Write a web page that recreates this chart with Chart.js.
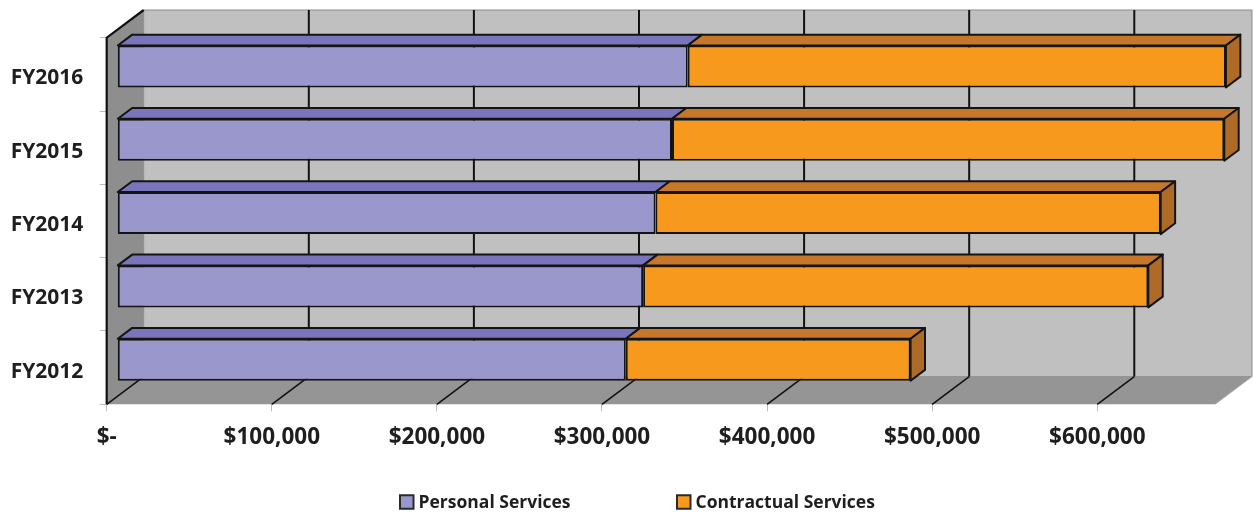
<!DOCTYPE html>
<html>
<head>
<meta charset="utf-8">
<title>Personal and Contractual Services, FY2012–FY2016</title>
<script src="https://cdn.jsdelivr.net/npm/chart.js@4.4.1/dist/chart.umd.min.js"></script>
<style>
  html, body { margin: 0; padding: 0; background: #ffffff; }
  #wrap { position: relative; width: 1254px; height: 515px; }
</style>
</head>
<body>
<div id="wrap"><canvas id="chart"></canvas></div>
<script>
// Fiscal years and spending per category (US dollars)
const years = ['FY2012', 'FY2013', 'FY2014', 'FY2015', 'FY2016'];
const personalServices = [308000, 318500, 326000, 336000, 345500];
const contractualServices = [172500, 306000, 306000, 334500, 326000];
const seriesNames = ['Personal Services', 'Contractual Services'];
const axisMax = 671300;
const axisTicks = [0, 100000, 200000, 300000, 400000, 500000, 600000];

// 3D look: depth vector of the box and where the bars sit inside it
const DEPTH = { x: 37, y: -27.7 };
const BAR_FRONT = 0.286;   // fraction of depth where bar fronts sit
const BAR_DEPTH = 0.39;    // fraction of depth taken by each bar

const colors = {
  backWall: '#C0C0C0',
  sideWall: '#8E8E8E',
  floor: '#959595',
  wallEdge: '#8A8A8A',
  grid: '#111111',
  barBorder: '#141414',
  fronts: ['#9A97CD', '#F7991D'],
  tops: ['#7A74BA', '#C7772A'],
  sides: ['#6C66A8', '#AE6A27']
};

function money(v) {
  if (v === 0) return '$-';
  return '$' + v.toLocaleString('en-US');
}

function poly(ctx, pts, fill, stroke, lw) {
  ctx.beginPath();
  ctx.moveTo(pts[0][0], pts[0][1]);
  for (let i = 1; i < pts.length; i++) ctx.lineTo(pts[i][0], pts[i][1]);
  ctx.closePath();
  if (fill) { ctx.fillStyle = fill; ctx.fill(); }
  if (stroke) { ctx.strokeStyle = stroke; ctx.lineWidth = lw || 1; ctx.lineJoin = 'round'; ctx.stroke(); }
}

function line(ctx, x1, y1, x2, y2, color, lw) {
  ctx.beginPath();
  ctx.moveTo(x1, y1);
  ctx.lineTo(x2, y2);
  ctx.strokeStyle = color;
  ctx.lineWidth = lw;
  ctx.stroke();
}

// Draws the walls, floor, grid and the depth faces of the bars,
// then shifts the bar fronts back into the box.
const box3d = {
  id: 'box3d',
  beforeDatasetsDraw(chart) {
    const ctx = chart.ctx;
    const a = chart.chartArea;
    const xs = chart.scales.x;
    const dx = DEPTH.x, dy = DEPTH.y;
    ctx.save();

    // back wall
    poly(ctx, [[a.left + dx, a.top + dy], [a.right + dx, a.top + dy],
               [a.right + dx, a.bottom + dy], [a.left + dx, a.bottom + dy]],
         colors.backWall, colors.wallEdge, 1);
    // floor
    poly(ctx, [[a.left, a.bottom], [a.right, a.bottom],
               [a.right + dx, a.bottom + dy], [a.left + dx, a.bottom + dy]],
         colors.floor, null);
    line(ctx, a.right, a.bottom, a.right + dx, a.bottom + dy, '#A8A8A8', 1);
    // side wall
    poly(ctx, [[a.left, a.top], [a.left + dx, a.top + dy],
               [a.left + dx, a.bottom + dy], [a.left, a.bottom]],
         colors.sideWall, null);

    // value grid on the back wall and across the floor
    xs.ticks.forEach(t => {
      const px = xs.getPixelForValue(t.value);
      if (t.value !== 0) line(ctx, px + dx, a.top + dy, px + dx, a.bottom + dy, colors.grid, 2);
      line(ctx, px, a.bottom, px + dx, a.bottom + dy, colors.grid, 1.6);
    });

    // front and top edges of the side wall
    ctx.beginPath();
    ctx.moveTo(a.left, a.bottom);
    ctx.lineTo(a.left, a.top);
    ctx.lineTo(a.left + dx, a.top + dy);
    ctx.strokeStyle = '#111';
    ctx.lineWidth = 2.2;
    ctx.lineJoin = 'miter';
    ctx.stroke();

    // depth faces of every bar segment
    const ox = dx * BAR_FRONT, oy = dy * BAR_FRONT;
    const bx = dx * BAR_DEPTH, by = dy * BAR_DEPTH;
    const last = chart.data.datasets.length - 1;
    chart.data.datasets.forEach((ds, di) => {
      const meta = chart.getDatasetMeta(di);
      meta.data.forEach(el => {
        const p = el.getProps(['x', 'y', 'base', 'height'], true);
        const l = Math.min(p.x, p.base) + ox;
        const r = Math.max(p.x, p.base) + ox;
        const t = p.y - p.height / 2 + oy;
        const b = p.y + p.height / 2 + oy;
        poly(ctx, [[l, t], [r, t], [r + bx, t + by], [l + bx, t + by]],
             colors.tops[di], colors.barBorder, 2);
        if (di === last) {
          poly(ctx, [[r, t], [r + bx, t + by], [r + bx, b + by], [r, b]],
               colors.sides[di], colors.barBorder, 2);
        }
      });
    });
    ctx.restore();

    ctx.save();
    ctx.translate(ox, oy);
  },
  afterDatasetsDraw(chart) {
    chart.ctx.restore();
  }
};

// Legend row under the axis labels
const legendRow = {
  id: 'legendRow',
  afterDraw(chart, args, opts) {
    const ctx = chart.ctx;
    ctx.save();
    ctx.font = opts.font;
    ctx.textBaseline = 'middle';
    ctx.textAlign = 'left';
    chart.data.datasets.forEach((ds, i) => {
      const x = opts.starts[i];
      const y = opts.y;
      ctx.fillStyle = ds.backgroundColor;
      ctx.fillRect(x, y - opts.box / 2, opts.box, opts.box);
      ctx.strokeStyle = '#2a2a2a';
      ctx.lineWidth = 2;
      ctx.strokeRect(x, y - opts.box / 2, opts.box, opts.box);
      ctx.fillStyle = '#1e1e1e';
      ctx.fillText(ds.label, x + opts.box + 5, y + 1);
    });
    ctx.restore();
  }
};

const labelFont = { family: "'Open Sans', 'DejaVu Sans', sans-serif", weight: 'bold' };

new Chart(document.getElementById('chart'), {
  type: 'bar',
  data: {
    labels: years,
    datasets: [
      {
        label: seriesNames[0],
        data: personalServices,
        backgroundColor: colors.fronts[0],
        borderColor: colors.barBorder,
        borderWidth: 2,
        borderSkipped: false,
        clip: false
      },
      {
        label: seriesNames[1],
        data: contractualServices,
        backgroundColor: colors.fronts[1],
        borderColor: colors.barBorder,
        borderWidth: 2,
        borderSkipped: false,
        clip: false
      }
    ]
  },
  options: {
    indexAxis: 'y',
    responsive: true,
    maintainAspectRatio: false,
    animation: false,
    events: [],
    layout: { padding: { top: 37.7, right: 39, left: 0, bottom: 0 } },
    datasets: { bar: { categoryPercentage: 1, barPercentage: 0.573 } },
    scales: {
      x: {
        type: 'linear',
        stacked: true,
        min: 0,
        max: axisMax,
        afterBuildTicks(scale) { scale.ticks = axisTicks.map(v => ({ value: v })); },
        afterFit(scale) { scale.height = 110.7; },
        border: { display: false },
        grid: { drawOnChartArea: false, drawTicks: true, tickLength: 7, color: '#BDBDBD', lineWidth: 1 },
        ticks: {
          maxRotation: 0,
          autoSkip: false,
          padding: 13,
          color: '#1e1e1e',
          font: Object.assign({ size: 22.5 }, labelFont),
          callback: v => money(v)
        }
      },
      y: {
        type: 'category',
        stacked: true,
        reverse: true,
        afterFit(scale) { scale.width = 106.7; },
        border: { display: false },
        grid: { drawOnChartArea: false, drawTicks: true, tickLength: 7, color: '#BDBDBD', lineWidth: 1 },
        ticks: {
          padding: 16.4,
          labelOffset: 4,
          color: '#1e1e1e',
          font: Object.assign({ size: 21 }, labelFont)
        }
      }
    },
    plugins: {
      legend: { display: false },
      tooltip: { enabled: false },
      legendRow: {
        font: "bold 17.5px 'Open Sans', 'DejaVu Sans', sans-serif",
        starts: [400, 677],
        y: 502,
        box: 13.5
      }
    }
  },
  plugins: [box3d, legendRow]
});
</script>
</body>
</html>
